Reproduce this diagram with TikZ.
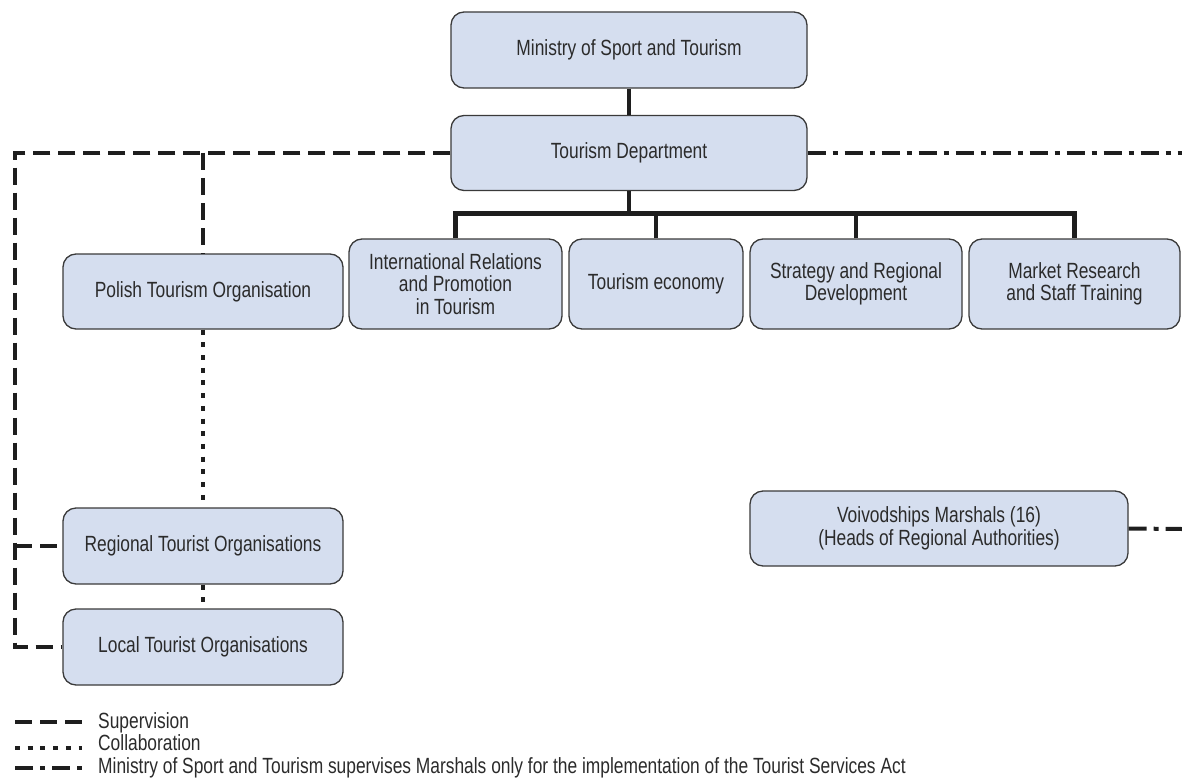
\documentclass[tikz,border=0pt]{standalone}
\usepackage{fontspec}
\setmainfont{Liberation Sans}[FakeStretch=0.79]
\definecolor{boxfill}{HTML}{D5DEEF}
\definecolor{boxline}{HTML}{3A3A3A}
\definecolor{txt}{HTML}{2B2B2B}
\definecolor{ln}{HTML}{1E1E1E}
\newcommand{\boxfont}{\fontsize{22pt}{22.5pt}\selectfont}
\tikzset{
  box/.style={draw=boxline, fill=boxfill, rounded corners=13pt, line width=1.3pt,
    align=center, inner sep=0pt, font=\boxfont, text=txt},
  solidln/.style={draw=ln, line width=4.5pt, line join=miter},
  superv/.style={draw=ln, line width=4pt, dash pattern=on 17pt off 8pt},
  collab/.style={draw=ln, line width=4.5pt, dash pattern=on 5pt off 7.7pt},
  marsh/.style={draw=ln, line width=4pt, dash pattern=on 18pt off 7pt on 5pt off 7pt},
  legtext/.style={anchor=base west, inner sep=0pt, font=\boxfont, text=txt}
}
\begin{document}
\begin{tikzpicture}[x=1pt,y=-1pt]
\useasboundingbox (0,0) rectangle (1182,778);

\coordinate (lc) at (15,153);
\coordinate (pc) at (203,153);
\coordinate (rend) at (1182,153);
\coordinate (vend) at (1182,529);

\node[box, minimum width=356pt, minimum height=76pt] (min) at (629,50) {Ministry of Sport and Tourism};
\node[box, minimum width=356pt, minimum height=75pt] (dept) at (629,153) {Tourism Department};
\node[box, minimum width=280pt, minimum height=75pt] (pto) at (203,291.5) {Polish Tourism Organisation};
\node[box, minimum width=213pt, minimum height=90pt] (ir) at (455.5,284) {International Relations\\and Promotion\\in Tourism};
\node[box, minimum width=174pt, minimum height=90pt] (te) at (656,284) {Tourism economy};
\node[box, minimum width=212pt, minimum height=90pt] (sr) at (856,284) {Strategy and Regional\\Development};
\node[box, minimum width=211pt, minimum height=90pt] (mr) at (1074.5,284) {Market Research\\and Staff Training};
\node[box, minimum width=280pt, minimum height=76pt] (rto) at (203,546) {Regional Tourist Organisations};
\node[box, minimum width=280pt, minimum height=76pt] (lto) at (203,647) {Local Tourist Organisations};
\node[box, minimum width=378pt, minimum height=75pt] (voiv) at (939,528.5) {Voivodships Marshals (16)\\(Heads of Regional Authorities)};

% solid hierarchy
\draw[solidln] (min.south) -- (dept.north);
\draw[solidln] (dept.south) -- ++(0,24);
\draw[solidln] (ir.north) -- ++(0,-25) -| (mr.north);
\draw[solidln] (te.north) -- ++(0,-25);
\draw[solidln] (sr.north) -- ++(0,-25);

% supervision
\draw[superv] (dept.west) -- (lc) |- (lto.west);
\draw[superv] (lc|-rto.west) -- (rto.west);
\draw[superv] (pc) -- (pto.north);

% collaboration
\draw[collab] (pto.south) -- (rto.north);
\draw[collab] (rto.south) -- (lto.north);

% marshals supervision
\draw[marsh] (dept.east) -- (rend);
\draw[marsh] (voiv.east) -- (vend);

% legend
\coordinate (l1a) at (15,722); \coordinate (l1b) at (82,722);
\coordinate (l2a) at (15,748); \coordinate (l2b) at (82,748);
\coordinate (l3a) at (15,768); \coordinate (l3b) at (82,768);
\draw[superv] (l1a) -- (l1b);
\draw[collab] (l2a) -- (l2b);
\draw[marsh] (l3a) -- (l3b);
\node[legtext] (t1) at (98,728) {Supervision};
\node[legtext] (t2) at (98,750.5) {Collaboration};
\node[legtext] (t3) at (98,773) {Ministry of Sport and Tourism supervises Marshals only for the implementation of the Tourist Services Act};
\end{tikzpicture}
\end{document}
